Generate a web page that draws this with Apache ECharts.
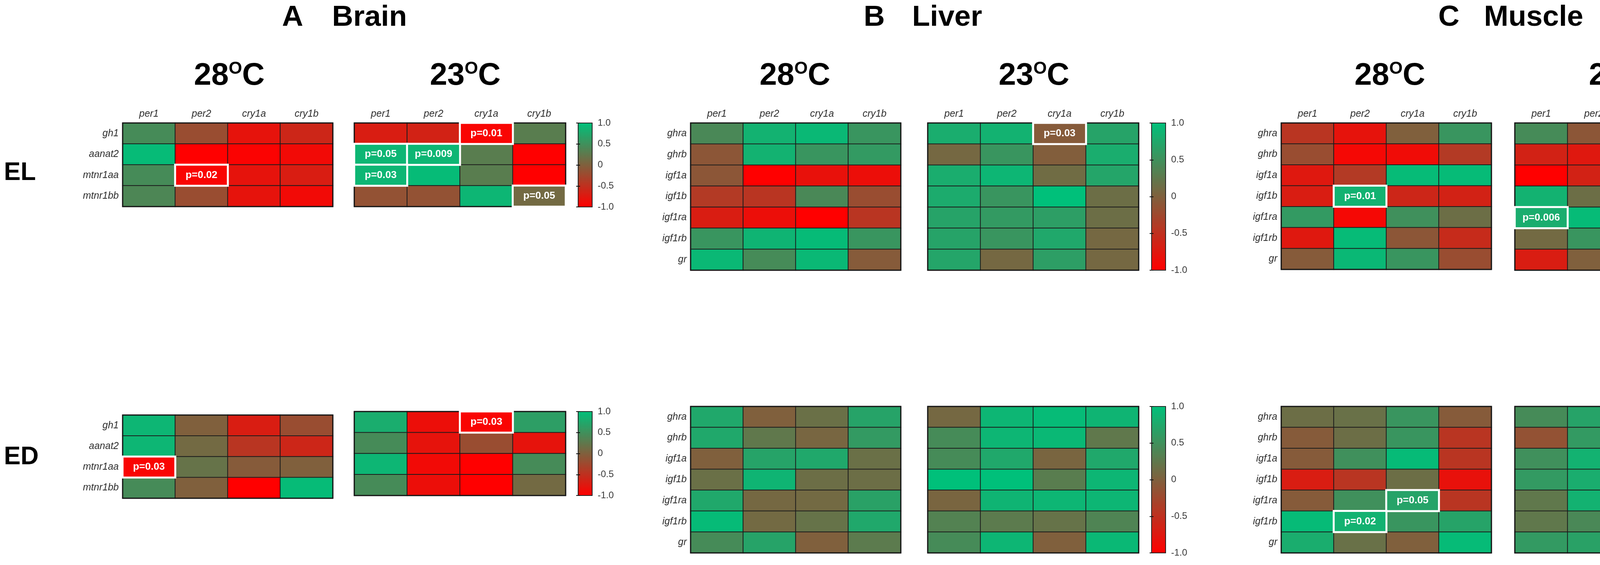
<!DOCTYPE html>
<html><head><meta charset="utf-8">
<script src="https://cdn.jsdelivr.net/npm/echarts@6/dist/echarts.min.js"></script>
<style>html,body{margin:0;padding:0;background:#fff;overflow:hidden}#c{width:4550px;height:1447px}</style>
</head><body><div id="c"></div><script>
// ---------- data ----------
const cols = ['per1', 'per2', 'cry1a', 'cry1b'];
const brainGenes = ['gh1', 'aanat2', 'mtnr1aa', 'mtnr1bb'];
const gGenes = ['ghra', 'ghrb', 'igf1a', 'igf1b', 'igf1ra', 'igf1rb', 'gr'];
const colorbarTicks = [-1, -0.5, 0, 0.5, 1];

const brainEL28 = [[0.45,-0.2,-0.8,-0.6],[0.95,-1,-0.97,-0.9],[0.45,-0.95,-0.8,-0.7],[0.4,-0.2,-0.8,-0.9]];
const brainEL23 = [[-0.7,-0.65,-0.95,0.3],[0.9,0.9,0.3,-1],[0.9,0.95,0.3,-1],[-0.15,-0.15,0.9,0.1]];
const brainED28 = [[0.9,0.0,-0.7,-0.2],[0.9,0.1,-0.45,-0.6],[-0.95,0.2,-0.05,0.0],[0.45,0.0,-1,0.95]];
const brainED23 = [[0.8,-0.85,-0.95,0.65],[0.45,-0.8,-0.2,-0.8],[0.9,-0.9,-1,0.45],[0.45,-0.85,-1,0.1]];

const liverEL28 = [[0.42,0.85,0.92,0.55],[-0.1,0.85,0.55,0.6],[-0.1,-1,-0.82,-0.85],[-0.4,-0.45,0.42,-0.2],[-0.7,-0.85,-1,-0.45],[0.55,0.88,0.95,0.55],[0.92,0.45,0.92,-0.05]];
const liverEL23 = [[0.8,0.85,-0.05,0.7],[0.08,0.55,-0.02,0.8],[0.8,0.9,0.12,0.72],[0.78,0.55,1.0,0.15],[0.7,0.6,0.65,0.15],[0.7,0.55,0.75,0.08],[0.72,0.08,0.65,0.08]];
const liverED28 = [[0.75,0.0,0.17,0.7],[0.75,0.25,0.06,0.6],[0.0,0.7,0.75,0.17],[0.17,0.88,0.15,0.15],[0.75,0.08,0.1,0.68],[0.95,0.1,0.2,0.75],[0.45,0.7,0.0,0.28]];
const liverED23 = [[0.08,0.9,0.95,0.88],[0.45,0.9,0.92,0.25],[0.45,0.75,0.05,0.75],[1.0,1.0,0.3,0.9],[0.05,0.88,0.9,0.9],[0.35,0.28,0.2,0.38],[0.45,0.9,0.0,0.92]];

const muscleEL28 = [[-0.45,-0.8,0.0,0.55],[-0.2,-0.92,-0.88,-0.4],[-0.75,-0.4,0.95,0.95],[-0.7,0.85,-0.6,-0.65],[0.6,-0.92,0.5,0.15],[-0.75,0.95,-0.1,-0.55],[-0.05,0.92,0.55,-0.2]];
const muscleEL23 = [[0.45,-0.1,-0.7,-0.8],[-0.65,-0.75,0.15,-1],[-1,-0.65,0.92,0.15],[0.85,0.15,-0.92,-0.6],[0.8,0.95,-0.92,0.5],[0.1,0.55,-0.1,0.95],[-0.7,0.0,0.45,0.7]];
const muscleED28 = [[0.15,0.18,0.55,-0.05],[-0.05,0.15,0.55,-0.45],[-0.05,0.5,0.95,-0.45],[-0.7,-0.45,0.15,-0.82],[-0.05,0.5,0.7,-0.45],[0.95,0.85,0.55,0.7],[0.8,0.18,0.0,0.95]];
const muscleED23 = [[0.45,0.7,-0.45,-0.92],[-0.15,0.6,0.0,-0.4],[0.5,0.85,-0.85,-0.45],[0.6,0.8,-0.95,-0.45],[0.25,0.85,-0.45,-0.92],[0.25,0.42,-0.7,-0.45],[0.6,0.68,-0.45,-0.92]];

// significant cells: [column, gene, label]
const brainEL28P = [['per2','mtnr1aa','p=0.02']];
const brainEL23P = [['cry1a','gh1','p=0.01'],['per1','aanat2','p=0.05'],['per2','aanat2','p=0.009'],['per1','mtnr1aa','p=0.03'],['cry1b','mtnr1bb','p=0.05']];
const brainED28P = [['per1','mtnr1aa','p=0.03']];
const brainED23P = [['cry1a','gh1','p=0.03']];
const liverEL28P = [];
const liverEL23P = [['cry1a','ghra','p=0.03']];
const liverED28P = [];
const liverED23P = [];
const muscleEL28P = [['per2','igf1b','p=0.01']];
const muscleEL23P = [['per1','igf1ra','p=0.006']];
const muscleED28P = [['cry1a','igf1ra','p=0.05'],['per2','igf1rb','p=0.02']];
const muscleED23P = [];

// ---------- layout ----------
const FONT = "'Liberation Sans', Arial, Helvetica, sans-serif";
// rl: show row labels, cl: show column labels
const panels = [
  {d: brainEL28, p: brainEL28P, g: brainGenes, left: 314, top: 315, w: 538, h: 214, vm: 0, rl: true, cl: true},
  {d: brainEL23, p: brainEL23P, g: brainGenes, left: 907, top: 315, w: 541, h: 214, vm: 0, rl: false, cl: true},
  {d: brainED28, p: brainED28P, g: brainGenes, left: 314, top: 1063, w: 538, h: 213, vm: 1, rl: true, cl: false},
  {d: brainED23, p: brainED23P, g: brainGenes, left: 907, top: 1054, w: 541, h: 215, vm: 1, rl: false, cl: false},
  {d: liverEL28, p: liverEL28P, g: gGenes, left: 1768, top: 315, w: 538, h: 377, vm: 2, rl: true, cl: true},
  {d: liverEL23, p: liverEL23P, g: gGenes, left: 2375, top: 315, w: 540, h: 377, vm: 2, rl: false, cl: true},
  {d: liverED28, p: liverED28P, g: gGenes, left: 1768, top: 1041, w: 538, h: 375, vm: 3, rl: true, cl: false},
  {d: liverED23, p: liverED23P, g: gGenes, left: 2375, top: 1041, w: 540, h: 375, vm: 3, rl: false, cl: false},
  {d: muscleEL28, p: muscleEL28P, g: gGenes, left: 3280, top: 315, w: 538, h: 375, vm: 4, rl: true, cl: true},
  {d: muscleEL23, p: muscleEL23P, g: gGenes, left: 3878, top: 315, w: 540, h: 377, vm: 4, rl: false, cl: true},
  {d: muscleED28, p: muscleED28P, g: gGenes, left: 3280, top: 1041, w: 538, h: 375, vm: 5, rl: true, cl: false},
  {d: muscleED23, p: muscleED23P, g: gGenes, left: 3878, top: 1041, w: 540, h: 375, vm: 5, rl: false, cl: false}
];
const colorbars = [
  {left: 1480, top: 315, w: 36, h: 215, color: '#3a3a3a', size: 24},
  {left: 1480, top: 1054, w: 36, h: 215, color: '#3a3a3a', size: 24},
  {left: 2948, top: 315, w: 36, h: 377, color: '#3a3a3a', size: 24},
  {left: 2948, top: 1041, w: 36, h: 375, color: '#3a3a3a', size: 24},
  {left: 4450, top: 315, w: 35, h: 377, color: '#858585', size: 19},
  {left: 4450, top: 1041, w: 35, h: 375, color: '#858585', size: 19}
];

const grid = [], xAxis = [], yAxis = [], series = [], visualMap = [];
const vmSeries = colorbars.map(() => []);

panels.forEach((pn, i) => {
  grid.push({left: pn.left, top: pn.top, width: pn.w, height: pn.h, show: true,
    backgroundColor: 'transparent', borderColor: '#141414', borderWidth: 3, z: 5});
  const lab = show => ({show: show, fontStyle: 'italic', fontSize: 25, color: '#2e2e2e', fontFamily: FONT, margin: 10});
  xAxis.push({type: 'category', gridIndex: i, data: cols, position: 'top',
    axisLine: {show: false}, axisTick: {show: false}, splitLine: {show: false}, axisLabel: lab(pn.cl)});
  yAxis.push({type: 'category', gridIndex: i, data: pn.g, inverse: true,
    axisLine: {show: false}, axisTick: {show: false}, splitLine: {show: false}, axisLabel: lab(pn.rl)});
  const cells = [];
  pn.d.forEach((row, r) => row.forEach((v, c) => cells.push([c, r, v])));
  vmSeries[pn.vm].push(series.length);
  series.push({type: 'heatmap', xAxisIndex: i, yAxisIndex: i, data: cells, z: 2,
    itemStyle: {borderColor: '#1c1c1c', borderWidth: 2}, emphasis: {disabled: true}, silent: true});
  const hi = pn.p.map(([c, gname, t]) => {
    const ci = cols.indexOf(c), ri = pn.g.indexOf(gname);
    return {name: t, value: [ci, ri, pn.d[ri][ci]]};
  });
  vmSeries[pn.vm].push(series.length);
  series.push({type: 'heatmap', xAxisIndex: i, yAxisIndex: i, data: hi, z: 6,
    itemStyle: {borderColor: '#ffffff', borderWidth: 5}, emphasis: {disabled: true}, silent: true,
    label: {show: true, formatter: q => q.name, color: '#fff', fontWeight: 'bold', fontSize: 26, fontFamily: FONT}});
});

colorbars.forEach((cb, k) => {
  visualMap.push({type: 'continuous', min: colorbarTicks[0], max: colorbarTicks[colorbarTicks.length - 1],
    seriesIndex: vmSeries[k], dimension: 2, inRange: {color: ['#ff0000', '#00c07a']},
    left: cb.left, top: cb.top, itemWidth: cb.w, itemHeight: cb.h, padding: 0,
    calculable: false, hoverLink: false, realtime: false, show: true, z: 4});
  const gi = grid.length;
  grid.push({left: cb.left, top: cb.top, width: cb.w, height: cb.h, show: true,
    backgroundColor: 'transparent', borderColor: '#222', borderWidth: 2, z: 10});
  xAxis.push({type: 'value', gridIndex: gi, show: false, min: 0, max: 1});
  const tick = {show: true, inside: true, length: 5, lineStyle: {color: '#111', width: 2}};
  const base = {type: 'value', gridIndex: gi, min: colorbarTicks[0], max: colorbarTicks[colorbarTicks.length - 1],
    interval: colorbarTicks[1] - colorbarTicks[0], axisLine: {show: false}, splitLine: {show: false}, axisTick: tick, z: 10};
  yAxis.push(Object.assign({}, base, {position: 'right',
    axisLabel: {color: cb.color, fontSize: cb.size, fontFamily: FONT, margin: 14,
      formatter: v => (v === 0 ? '0' : v.toFixed(1))}}));
  yAxis.push(Object.assign({}, base, {position: 'left', axisLabel: {show: false}}));
});

const txt = (x, y, text, size, align) => ({type: 'text', x: x, y: y, silent: true,
  style: {text: text, fontSize: size, fontWeight: 'bold', fontFamily: FONT, fill: '#000',
    textAlign: align || 'left', textVerticalAlign: 'middle', align: align || 'left', verticalAlign: 'middle'}});
const temp = (x, t) => ({type: 'text', x: x, y: 195, silent: true,
  style: {text: '{n|' + t + '}{s|O}{n|C}', fill: '#000', textAlign: 'center', textVerticalAlign: 'middle',
    align: 'center', verticalAlign: 'middle',
    rich: {n: {fontSize: 80, fontWeight: 'bold', fontFamily: FONT, fill: '#000'},
           s: {fontSize: 44, lineHeight: 56, fontWeight: 'bold', fontFamily: FONT, fill: '#000', verticalAlign: 'top'}}}});

const graphic = [
  txt(722, 45, 'A', 75), txt(850, 45, 'Brain', 75),
  txt(2211, 45, 'B', 75), txt(2335, 45, 'Liver', 75),
  txt(3682, 45, 'C', 75), txt(3799, 45, 'Muscle', 75),
  temp(587, '28'), temp(1191, '23'), temp(2035, '28'), temp(2647, '23'), temp(3558, '28'), temp(4158, '23'),
  txt(10, 443, 'EL', 64), txt(10, 1171, 'ED', 64)
];

const chart = echarts.init(document.getElementById('c'), null, {renderer: 'canvas'});
chart.setOption({backgroundColor: '#ffffff', animation: false, grid, xAxis, yAxis, series, visualMap, graphic});
</script></body></html>
